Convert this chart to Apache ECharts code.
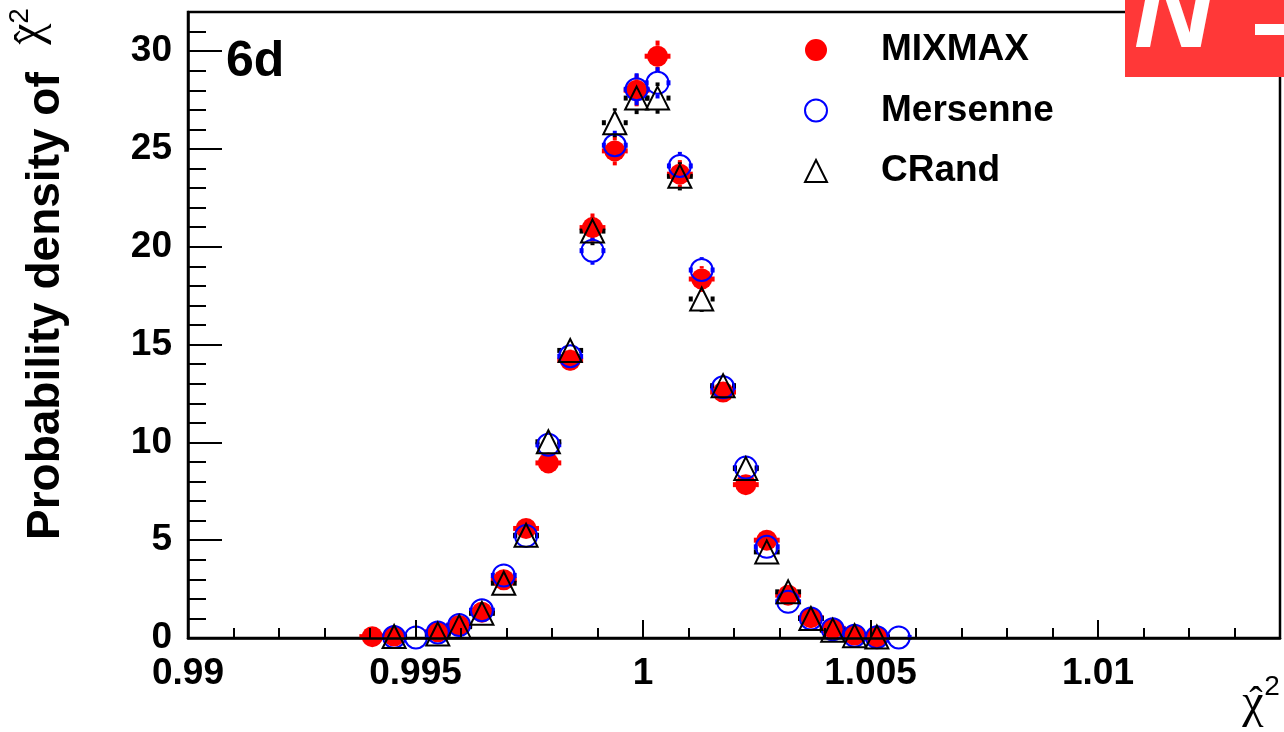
<!DOCTYPE html>
<html>
<head>
<meta charset="utf-8">
<script src="https://cdn.jsdelivr.net/npm/echarts@6/dist/echarts.min.js"></script>
<style>
html,body{margin:0;padding:0;background:#fff;}
#chart{width:1284px;height:732px;}
</style>
</head>
<body>
<div id="chart"></div>
<script>
// ---- data ----
const xValues = [0.99405, 0.99453, 0.99501, 0.99549, 0.99596, 0.99646, 0.99694, 0.99743, 0.99792, 0.99840,
                 0.99889, 0.99938, 0.99986, 1.00032, 1.00081, 1.00129, 1.00176, 1.00226, 1.00272, 1.00319,
                 1.00369, 1.00417, 1.00465, 1.00514, 1.00562];
const mixmax   = [0.07, 0.10, null, 0.32, 0.64, 1.32, 2.98, 5.60, 8.95, 14.2,
                  20.98, 24.9, 28.0, 29.74, 23.71, 18.35, 12.57, 7.84, 5.00, 2.19,
                  1.04, 0.49, 0.15, 0.05, null];
const mersenne = [null, 0.05, 0.03, 0.28, 0.66, 1.42, 3.20, 5.22, 9.88, 14.4,
                  19.8, 25.19, 28.05, 28.38, 24.13, 18.81, 12.82, 8.71, 4.66, 1.85,
                  1.00, 0.45, 0.12, 0.04, 0.03];
const crand    = [null, 0.08, null, 0.20, 0.58, 1.26, 2.80, 5.25, 10.03, 14.7,
                  20.8, 26.34, 27.6, 27.6, 23.6, 17.33, 12.9, 8.66, 4.40, 2.36,
                  1.00, 0.40, 0.12, 0.05, null];
const errors   = [0.05, 0.06, 0.05, 0.10, 0.14, 0.20, 0.30, 0.38, 0.45, 0.55,
                  0.72, 0.74, 0.82, 0.80, 0.72, 0.66, 0.53, 0.43, 0.33, 0.22,
                  0.15, 0.10, 0.06, 0.04, 0.04];
const halfBin = 0.00024;
const seriesNames = ['MIXMAX', 'Mersenne', 'CRand'];
const xTicks = {min: 0.99, max: 1.014, major: 0.005, minor: 0.001};
const yTicks = {min: 0, max: 32, major: 5, minor: 1};

// ---- build ----
function pairs(vals) {
  const out = [];
  vals.forEach((v, i) => { if (v !== null) out.push([xValues[i], v, errors[i]]); });
  return out;
}
const FONT = 'Liberation Sans';
const SERIF = 'Liberation Serif';
const labelStyle = {color: '#000', fontSize: 37, fontWeight: 'bold', fontFamily: FONT};

function errSeries(name, vals, color, rHalf) {
  return {
    type: 'custom', name: name + ' err', xAxisIndex: 0, yAxisIndex: 0, silent: true,
    data: pairs(vals),
    renderItem: function (params, api) {
      const x = api.value(0), y = api.value(1), e = api.value(2);
      const c = api.coord([x, y]);
      const top = api.coord([x, y + e]);
      const bot = api.coord([x, y - e]);
      const hw = api.size([halfBin, 0])[0];
      const w = 4;
      const children = [];
      if (c[1] - top[1] > rHalf) {
        children.push({type: 'rect', shape: {x: c[0] - w / 2, y: top[1], width: w, height: c[1] - rHalf - top[1]}, style: {fill: color}});
      }
      const yb = Math.min(bot[1], params.coordSys.y + params.coordSys.height);
      if (yb - c[1] > rHalf) {
        children.push({type: 'rect', shape: {x: c[0] - w / 2, y: c[1] + rHalf, width: w, height: yb - c[1] - rHalf}, style: {fill: color}});
      }
      children.push({type: 'rect', shape: {x: c[0] - hw - 2, y: c[1] - 2.5, width: 4, height: 5}, style: {fill: color}});
      children.push({type: 'rect', shape: {x: c[0] + hw - 2, y: c[1] - 2.5, width: 4, height: 5}, style: {fill: color}});
      return {type: 'group', children: children};
    }
  };
}

const chart = echarts.init(document.getElementById('chart'));
const option = {
  animation: false,
  backgroundColor: '#fff',
  grid: [
    {left: 188, right: 4, top: 12, bottom: 94, show: true, borderColor: '#000', borderWidth: 2.5, backgroundColor: 'transparent'},
    {left: 188, right: 4, top: 12, bottom: 94}
  ],
  xAxis: [
    {type: 'value', gridIndex: 0, min: xTicks.min, max: xTicks.max, interval: xTicks.major, z: 10,
     axisLine: {show: true, onZero: false, lineStyle: {color: '#000', width: 2.5}},
     axisTick: {show: true, inside: true, length: 18, lineStyle: {color: '#000', width: 2}},
     splitLine: {show: false},
     axisLabel: Object.assign({margin: 17, showMaxLabel: false, showMinLabel: true,
       formatter: v => String(parseFloat(v.toFixed(4)))}, labelStyle)},
    {type: 'value', gridIndex: 1, min: xTicks.min, max: xTicks.max, interval: xTicks.minor, z: 10,
     axisLine: {show: false}, axisLabel: {show: false}, splitLine: {show: false},
     axisTick: {show: true, inside: true, length: 10, lineStyle: {color: '#000', width: 2}}}
  ],
  yAxis: [
    {type: 'value', gridIndex: 0, min: yTicks.min, max: yTicks.max, interval: yTicks.major, z: 10,
     axisLine: {show: true, onZero: false, lineStyle: {color: '#000', width: 2.5}},
     axisTick: {show: true, inside: true, length: 34, lineStyle: {color: '#000', width: 2}},
     splitLine: {show: false},
     axisLabel: Object.assign({margin: 16, showMaxLabel: false}, labelStyle)},
    {type: 'value', gridIndex: 1, min: yTicks.min, max: yTicks.max, interval: yTicks.minor, z: 10,
     axisLine: {show: false}, axisLabel: {show: false}, splitLine: {show: false},
     axisTick: {show: true, inside: true, length: 18, lineStyle: {color: '#000', width: 2}}}
  ],
  legend: {
    orient: 'vertical', left: 804, top: 30, padding: 0, itemGap: 20.5,
    itemWidth: 22, itemHeight: 22, selectedMode: false,
    textStyle: {color: '#000', fontSize: 37, fontWeight: 'bold', fontFamily: FONT, lineHeight: 40, padding: [0, 0, 0, 49]},
    data: [
      {name: seriesNames[0], icon: 'circle', itemStyle: {color: '#ff0000', borderWidth: 0}},
      {name: seriesNames[1], icon: 'circle', itemStyle: {color: 'rgba(0,0,0,0)', borderColor: '#0000ff', borderWidth: 2}},
      {name: seriesNames[2], icon: 'triangle', itemStyle: {color: 'rgba(0,0,0,0)', borderColor: '#000', borderWidth: 2}}
    ]
  },
  series: [
    errSeries(seriesNames[0], mixmax, '#ff0000', 10.5),
    {type: 'scatter', name: seriesNames[0], xAxisIndex: 0, yAxisIndex: 0, silent: true,
     data: pairs(mixmax), symbol: 'circle', symbolSize: 21,
     itemStyle: {color: '#ff0000', opacity: 1}},
    errSeries(seriesNames[1], mersenne, '#0000ff', 11.5),
    {type: 'scatter', name: seriesNames[1], xAxisIndex: 0, yAxisIndex: 0, silent: true,
     data: pairs(mersenne), symbol: 'circle', symbolSize: 22,
     itemStyle: {color: 'rgba(0,0,0,0)', borderColor: '#0000ff', borderWidth: 2, opacity: 1}},
    errSeries(seriesNames[2], crand, '#000000', 12),
    {type: 'scatter', name: seriesNames[2], xAxisIndex: 0, yAxisIndex: 0, silent: true,
     data: pairs(crand), symbol: 'triangle', symbolSize: 23,
     itemStyle: {color: 'rgba(0,0,0,0)', borderColor: '#000', borderWidth: 2, opacity: 1}}
  ],
  graphic: [
    {type: 'text', x: 226, y: 62, z: 20,
     style: {text: '6d', fontSize: 50, fontWeight: 'bold', fontFamily: FONT, fill: '#000', align: 'left', verticalAlign: 'middle'}},
    // y-axis title
    {type: 'text', x: 46, y: 540, rotation: Math.PI / 2, z: 20,
     style: {text: 'Probability density of', fontSize: 46, fontWeight: 'bold', fontFamily: FONT, fill: '#000', align: 'left', verticalAlign: 'middle'}},
    {type: 'text', x: 28, y: 34, rotation: Math.PI / 2, z: 20,
     style: {text: 'χ', fontSize: 48, fontFamily: SERIF, fill: '#000', align: 'center', verticalAlign: 'middle'}},
    {type: 'text', x: 31, y: 37, rotation: Math.PI / 2, z: 20,
     style: {text: '\u02C6', fontSize: 40, fontFamily: SERIF, fill: '#000', align: 'center', verticalAlign: 'middle'}},
    {type: 'text', x: 20, y: 16, rotation: Math.PI / 2, z: 20,
     style: {text: '2', fontSize: 28, fontFamily: FONT, fill: '#000', align: 'center', verticalAlign: 'middle'}},
    // x-axis title
    {type: 'text', x: 1253, y: 704, z: 20,
     style: {text: 'χ', fontSize: 48, fontFamily: SERIF, fill: '#000', align: 'center', verticalAlign: 'middle'}},
    {type: 'text', x: 1256, y: 703, z: 20,
     style: {text: '\u02C6', fontSize: 40, fontFamily: SERIF, fill: '#000', align: 'center', verticalAlign: 'middle'}},
    {type: 'text', x: 1272, y: 687, z: 20,
     style: {text: '2', fontSize: 28, fontFamily: FONT, fill: '#000', align: 'center', verticalAlign: 'middle'}},
    // corner badge
    {type: 'rect', z: 30, shape: {x: 1125, y: 0, width: 159, height: 77}, style: {fill: '#ff3838'}},
    {type: 'text', x: 1134, y: 72, z: 31,
     style: {text: 'N', fontSize: 110, fontWeight: 'bold', fontStyle: 'italic', fontFamily: FONT, fill: '#fff', align: 'left', verticalAlign: 'bottom'}},
    {type: 'rect', z: 31, shape: {x: 1255, y: 24, width: 29, height: 11}, style: {fill: '#fff'}}
  ]
};
chart.setOption(option);
</script>
</body>
</html>
